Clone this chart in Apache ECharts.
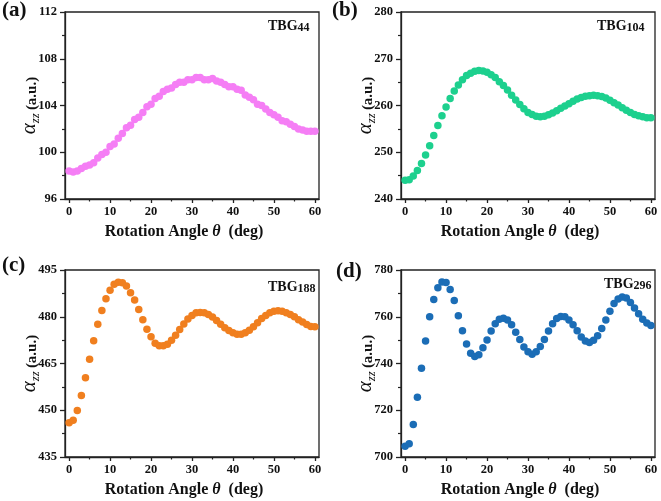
<!DOCTYPE html>
<html>
<head>
<meta charset="utf-8">
<script src="https://cdn.jsdelivr.net/npm/echarts@6/dist/echarts.min.js"></script>
<style>
  html, body { margin: 0; padding: 0; background: #fff; }
  #chart { width: 661px; height: 501px; }
</style>
</head>
<body>
<div id="chart"></div>
<script>
// ---- data ----
const angles = [0,1,2,3,4,5,6,7,8,9,10,11,12,13,14,15,16,17,18,19,20,21,22,23,24,25,26,27,28,29,30,
  31,32,33,34,35,36,37,38,39,40,41,42,43,44,45,46,47,48,49,50,51,52,53,54,55,56,57,58,59,60];

const tbg44 = [98.4,98.3,98.4,98.6,98.8,98.9,99.1,99.5,99.8,100.0,100.5,100.7,101.2,101.6,102.1,102.3,
  102.8,103.0,103.4,103.9,104.1,104.6,104.8,105.2,105.4,105.5,105.8,106.0,106.0,106.2,106.2,106.4,106.4,
  106.2,106.2,106.3,106.1,106.0,105.8,105.6,105.6,105.4,105.3,104.9,104.7,104.5,104.1,104.0,103.7,103.4,
  103.2,103.0,102.7,102.6,102.4,102.2,102.0,101.9,101.8,101.8,101.8];

const tbg104 = [244.0,244.1,244.9,246.1,247.6,249.4,251.4,253.6,255.7,257.8,259.7,261.5,263.1,264.4,265.5,
  266.4,266.9,267.3,267.5,267.4,267.1,266.6,266.0,265.1,264.3,263.3,262.2,261.2,260.2,259.3,258.5,258.1,
  257.7,257.6,257.7,258.0,258.4,258.9,259.4,259.9,260.4,260.9,261.4,261.7,262.0,262.1,262.2,262.1,261.9,
  261.6,261.1,260.6,260.1,259.5,259.0,258.5,258.1,257.8,257.6,257.4,257.4];

const tbg188 = [446.0,446.8,449.9,454.7,460.4,466.4,472.3,477.6,482.0,485.8,488.5,490.4,491.1,490.9,489.9,
  487.7,485.4,482.3,479.0,476.0,473.6,471.5,470.7,470.7,471.2,472.5,474.1,475.9,477.7,479.3,480.4,481.3,
  481.4,481.3,480.7,479.9,478.8,477.6,476.5,475.6,474.9,474.4,474.4,474.9,475.7,476.8,478.1,479.4,480.4,
  481.3,481.8,481.9,481.8,481.3,480.7,480.0,479.0,478.3,477.5,476.9,476.8];

const tbg296 = [704.6,705.7,713.9,725.6,738.0,749.6,760.0,767.4,772.4,774.9,774.6,771.7,766.9,760.4,754.0,
  748.3,744.4,743.0,743.7,746.7,750.1,753.9,757.0,758.9,759.4,758.6,756.6,753.4,750.3,747.1,745.0,744.0,
  745.0,747.3,750.3,753.9,757.0,759.3,760.1,760.0,758.6,756.6,754.0,751.3,749.6,749.0,749.9,751.9,755.0,
  758.6,762.4,765.7,767.6,768.4,768.0,766.1,763.7,761.3,758.9,757.3,756.3];

const xTicks = [0,10,20,30,40,50,60];
const xMinorTicks = [5,15,25,35,45,55];
const yMins = [96, 240, 435, 700];
const yMaxs = [112, 280, 495, 780];
const yIntervals = [4, 10, 15, 20];
const panelLabels = ['(a)', '(b)', '(c)', '(d)'];
const sizeLabels = ['44', '104', '188', '296'];
const seriesValues = [tbg44, tbg104, tbg188, tbg296];

// ---- style ----
const FONT = "'Liberation Serif', 'Times New Roman', serif";
const AX = '#222';
const colors = ['#f57ef5', '#1dd08e', '#f07f1f', '#1b6db6'];
const grids = [
  { left: 65,  top: 12,  width: 254, height: 187 },
  { left: 401, top: 12,  width: 254, height: 187 },
  { left: 65,  top: 270, width: 254, height: 187 },
  { left: 401, top: 270, width: 254, height: 187 }
];
const panelPos = [
  { left: 2, top: 0 }, { left: 332, top: 0 }, { left: 2, top: 255 }, { left: 336, top: 261 }
];
const tbgPos = [
  { left: 268, top: 18 }, { left: 597, top: 18 }, { left: 268, top: 279 }, { left: 604, top: 276 }
];

const xAxes = [];
const yAxes = [];
const series = [];
const titles = [];

for (let i = 0; i < 4; i++) {
  xAxes.push({
    gridIndex: i, type: 'value', min: -1, max: 61, position: 'bottom',
    axisLine: { show: true, onZero: false, lineStyle: { color: AX, width: 1.3 } },
    axisTick: { show: true, customValues: xTicks, length: 4, lineStyle: { color: AX, width: 1.3 } },
    axisLabel: { customValues: xTicks, fontFamily: FONT, fontWeight: 'bold', fontSize: 12.5, color: '#111', margin: 6 },
    splitLine: { show: false },
    name: 'Rotation Angle {i|θ}  (deg)',
    nameLocation: 'middle', nameGap: 25,
    nameTextStyle: {
      fontFamily: FONT, fontWeight: 'bold', fontSize: 16, color: '#111', padding: [0, 16, 0, 0],
      rich: { i: { fontFamily: FONT, fontStyle: 'italic', fontSize: 16, color: '#111' } }
    }
  });
  xAxes.push({
    gridIndex: i, type: 'value', min: -1, max: 61, position: 'bottom',
    axisLine: { show: false, onZero: false },
    axisTick: { show: true, customValues: xMinorTicks, length: 2.5, lineStyle: { color: AX, width: 1.2 } },
    axisLabel: { show: false },
    splitLine: { show: false }
  });
  yAxes.push({
    gridIndex: i, type: 'value', min: yMins[i], max: yMaxs[i], interval: yIntervals[i],
    axisLine: { show: true, onZero: false, lineStyle: { color: AX, width: 1.3 } },
    axisTick: { show: true, length: 5, lineStyle: { color: AX, width: 1.3 } },
    minorTick: { show: true, splitNumber: 2, length: 3, lineStyle: { color: AX, width: 1.2 } },
    axisLabel: { fontFamily: FONT, fontWeight: 'bold', fontSize: 12.5, color: '#111', margin: 8 },
    splitLine: { show: false },
    name: '{g|α}{s|zz} {t|(a.u.)}',
    nameLocation: 'middle', nameGap: 23, nameRotate: 90, nameMoveOverlap: false,
    nameTextStyle: {
      rich: {
        g: { fontFamily: FONT, fontStyle: 'italic', fontSize: 21, color: '#111', verticalAlign: 'bottom', lineHeight: 18, padding: [0, 0, 2, 0] },
        s: { fontFamily: FONT, fontStyle: 'italic', fontSize: 12.5, color: '#111', verticalAlign: 'bottom', lineHeight: 12 },
        t: { fontFamily: FONT, fontWeight: 'bold', fontSize: 15, color: '#111', verticalAlign: 'bottom', lineHeight: 16, padding: [0, 0, 2, 0] }
      }
    }
  });
  series.push({
    type: 'scatter',
    xAxisIndex: 2 * i, yAxisIndex: i,
    data: angles.map((a, k) => [a, seriesValues[i][k]]),
    symbol: 'circle', symbolSize: 7.5,
    itemStyle: { color: colors[i], opacity: 1 },
    emphasis: { disabled: true }
  });
  titles.push({
    text: panelLabels[i], left: panelPos[i].left, top: panelPos[i].top, padding: 0,
    textStyle: { fontFamily: FONT, fontWeight: 'bold', fontSize: 21, color: '#111' }
  });
  titles.push({
    text: '{m|TBG}{s|' + sizeLabels[i] + '}', left: tbgPos[i].left, top: tbgPos[i].top, padding: 0,
    textStyle: {
      rich: {
        m: { fontFamily: FONT, fontWeight: 'bold', fontSize: 14, color: '#111', verticalAlign: 'bottom', lineHeight: 16, padding: [0, 0, 1, 0] },
        s: { fontFamily: FONT, fontWeight: 'bold', fontSize: 12, color: '#111', verticalAlign: 'bottom', lineHeight: 13 }
      }
    }
  });
}

const chart = echarts.init(document.getElementById('chart'), null, { renderer: 'canvas' });
chart.setOption({
  animation: false,
  backgroundColor: '#fff',
  title: titles,
  grid: grids.map(g => Object.assign({ show: true, borderColor: AX, borderWidth: 1.3, backgroundColor: 'transparent' }, g)),
  xAxis: xAxes,
  yAxis: yAxes,
  series: series
});
</script>
</body>
</html>
